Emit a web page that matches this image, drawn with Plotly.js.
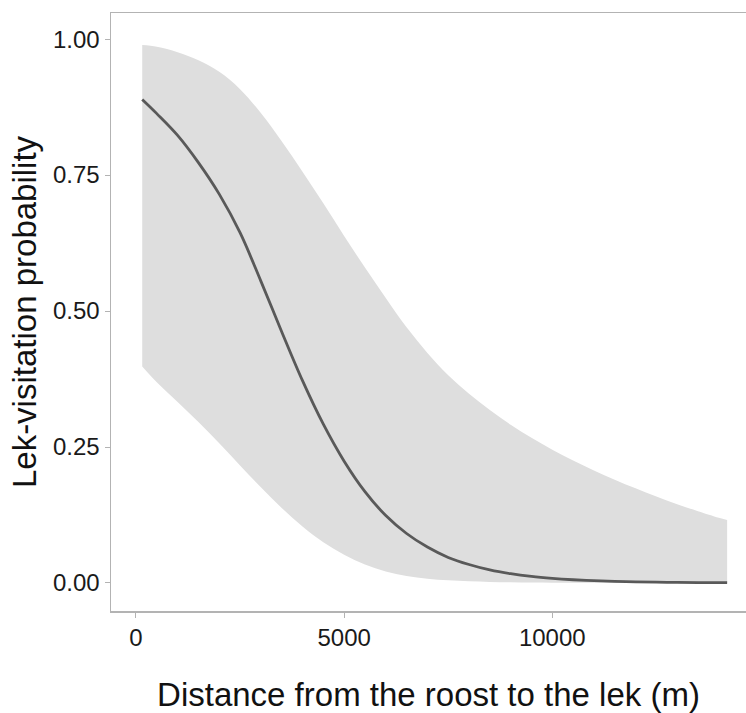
<!DOCTYPE html>
<html>
<head>
<meta charset="utf-8">
<script src="https://cdn.plot.ly/plotly-3.0.1.min.js"></script>
<style>html,body{margin:0;padding:0;background:#fff;}#chart{width:746px;height:713px;}</style>
</head>
<body>
<div id="chart"></div>
<script>
// Distance from roost to lek (m)
const distance = [150, 500, 1000, 1500, 2000, 2500, 3000, 3500, 4000, 4500, 5000, 5500, 6000, 6500, 7000, 7500, 8000, 8500, 9000, 9500, 10000, 10500, 11000, 11500, 12000, 12500, 13000, 13500, 14000, 14200];
// Fitted lek-visitation probability
const fitted = [0.889, 0.863, 0.823, 0.773, 0.715, 0.644, 0.555, 0.462, 0.372, 0.292, 0.224, 0.168, 0.124, 0.091, 0.066, 0.047, 0.034, 0.024, 0.017, 0.012, 0.0085, 0.006, 0.0042, 0.003, 0.0021, 0.0015, 0.0011, 0.0008, 0.0006, 0.0005];
// Upper 95% confidence bound
const upper = [0.989, 0.986, 0.976, 0.961, 0.940, 0.908, 0.864, 0.812, 0.756, 0.698, 0.638, 0.580, 0.524, 0.470, 0.423, 0.382, 0.348, 0.318, 0.291, 0.267, 0.245, 0.225, 0.207, 0.190, 0.174, 0.159, 0.145, 0.132, 0.120, 0.116];
// Lower 95% confidence bound
const lower = [0.398, 0.369, 0.333, 0.296, 0.257, 0.216, 0.176, 0.138, 0.104, 0.075, 0.052, 0.034, 0.021, 0.013, 0.008, 0.005, 0.003, 0.002, 0.0013, 0.0009, 0.0006, 0.0004, 0.0003, 0.0002, 0.0001, 0.0001, 0.0001, 0.0001, 0.0001, 0.0001];
const yTicks = [0, 0.25, 0.5, 0.75, 1];
const yTickText = ["0.00", "0.25", "0.50", "0.75", "1.00"];
const xTicks = [0, 5000, 10000];
const xTickText = ["0", "5000", "10000"];

const font = "Liberation Sans, Arial, sans-serif";
const traces = [
  {x: distance, y: lower, type: "scatter", mode: "lines", line: {width: 0, color: "rgba(0,0,0,0)", shape: "spline", smoothing: 1}, hoverinfo: "skip", showlegend: false},
  {x: distance, y: upper, type: "scatter", mode: "lines", fill: "tonexty", fillcolor: "#dedede", line: {width: 0, color: "rgba(0,0,0,0)", shape: "spline", smoothing: 1}, hoverinfo: "skip", showlegend: false},
  {x: distance, y: fitted, type: "scatter", mode: "lines", line: {color: "#595959", width: 2.8, shape: "spline", smoothing: 1}, showlegend: false}
];
const layout = {
  width: 746, height: 713,
  margin: {l: 111, r: 0, t: 13, b: 102},
  paper_bgcolor: "#fff", plot_bgcolor: "#fff",
  font: {family: font, color: "#1a1a1a"},
  xaxis: {
    range: [-600, 14653], tickvals: xTicks, ticktext: xTickText,
    showgrid: false, zeroline: false,
    showline: true, mirror: true, linecolor: "#b3b3b3", linewidth: 1.5,
    ticks: "outside", ticklen: 5, tickcolor: "#b3b3b3", tickwidth: 1,
    tickfont: {size: 24, family: font, color: "#1a1a1a"},
    title: {text: "Distance from the roost to the lek (m)", font: {size: 33, family: font, color: "#111"}, standoff: 32}
  },
  yaxis: {
    range: [-0.0515, 1.048], tickvals: yTicks, ticktext: yTickText,
    showgrid: false, zeroline: false,
    showline: true, linecolor: "#b3b3b3", linewidth: 1.5,
    ticks: "outside", ticklen: 5, tickcolor: "#b3b3b3", tickwidth: 1,
    tickfont: {size: 24, family: font, color: "#1a1a1a"},
    title: {text: "Lek-visitation probability", font: {size: 33, family: font, color: "#111"}, standoff: 6}
  }
};
Plotly.newPlot("chart", traces, layout, {displayModeBar: false, staticPlot: true});
</script>
</body>
</html>
